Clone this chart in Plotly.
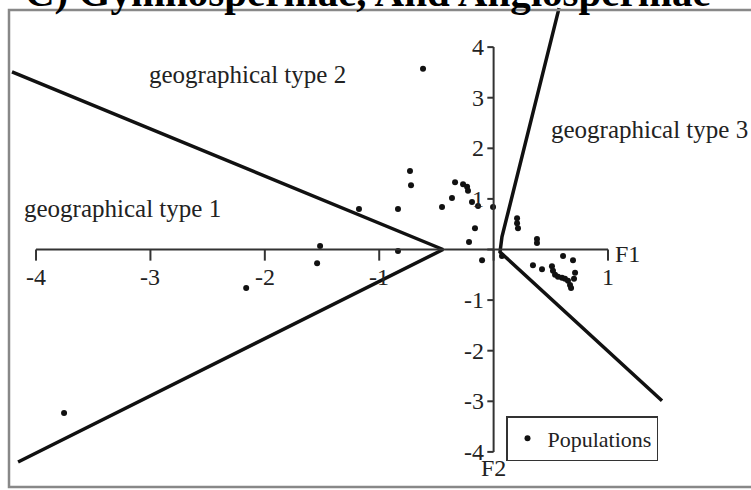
import plotly.graph_objects as go

# populations scores on the first two factors
f1 = [-3.755, -2.163, -1.517, -1.543, -1.177, -0.836, -0.836, -0.731, -0.722, -0.617,
      -0.451, -0.364, -0.337, -0.267, -0.232, -0.224, -0.189, -0.136, -0.005, -0.163,
      -0.215, -0.101, 0.073, 0.205, 0.205, 0.213, 0.379, 0.379, 0.344, 0.423,
      0.510, 0.519, 0.537, 0.563, 0.598, 0.624, 0.650, 0.668, 0.677, 0.607,
      0.694, 0.712, 0.703]
f2 = [-3.23, -0.76, 0.07, -0.27, 0.80, 0.80, -0.03, 1.55, 1.27, 3.57,
      0.84, 1.02, 1.33, 1.29, 1.24, 1.16, 0.94, 0.86, 0.84, 0.42,
      0.15, -0.21, -0.13, 0.62, 0.52, 0.42, 0.21, 0.13, -0.31, -0.39,
      -0.33, -0.42, -0.50, -0.54, -0.56, -0.58, -0.62, -0.70, -0.76, -0.13,
      -0.21, -0.46, -0.58]

# boundaries between the geographical types
left_x = [-4.21, -0.442, -4.157]
left_y = [3.51, 0.0, -4.20]
right_x = [0.572, 0.073, 0.056, 1.472]
right_y = [4.77, 0.25, -0.05, -2.99]

x_ticks = [-4, -3, -2, -1, 1]
y_ticks = [4, 3, 2, 1, -1, -2, -3, -4]

type_labels = ["geographical type 1", "geographical type 2", "geographical type 3"]
title = "C) Gymnospermae, And Angiospermae"

SERIF = "Liberation Serif, Times New Roman, serif"
INK = "#222"

fig = go.Figure()

fig.add_trace(go.Scatter(x=left_x, y=left_y, mode="lines",
                         line=dict(color="#111", width=3.5),
                         showlegend=False, hoverinfo="skip"))
fig.add_trace(go.Scatter(x=right_x, y=right_y, mode="lines",
                         line=dict(color="#111", width=3.5),
                         showlegend=False, hoverinfo="skip"))
fig.add_trace(go.Scatter(x=f1, y=f2, mode="markers", name="Populations",
                         marker=dict(color="#111", size=6)))

# axes crossing at the origin
shapes = [
    dict(type="line", x0=-4, x1=1, y0=0, y1=0, line=dict(color="#333", width=2)),
    dict(type="line", x0=0, x1=0, y0=-4, y1=4, line=dict(color="#333", width=2)),
]
for t in [-4, -3, -2, -1, 0, 1]:
    shapes.append(dict(type="line", x0=t, x1=t, y0=0, y1=-0.22,
                       line=dict(color="#333", width=2)))
for t in range(-4, 5):
    shapes.append(dict(type="line", x0=-0.055, x1=0, y0=t, y1=t,
                       line=dict(color="#333", width=2)))

# outer frame
shapes.append(dict(type="rect", xref="paper", yref="paper",
                   x0=9 / 751, x1=1.02, y0=1 - 487 / 490, y1=1 - 10 / 490,
                   line=dict(color="#888", width=2.5)))

annotations = []
for t in x_ticks:
    annotations.append(dict(x=t, y=0, text=str(t), showarrow=False,
                            yanchor="middle", yshift=-27,
                            font=dict(family=SERIF, size=24, color=INK)))
for t in y_ticks:
    annotations.append(dict(x=0, y=t, text=str(t), showarrow=False,
                            xanchor="right", xshift=-8,
                            font=dict(family=SERIF, size=24, color=INK)))
annotations.append(dict(x=1, y=0, text="F1", showarrow=False, xanchor="left",
                        xshift=5, yanchor="middle", yshift=-4,
                        font=dict(family=SERIF, size=24, color=INK)))
annotations.append(dict(x=0, y=-4, text="F2", showarrow=False, yanchor="top",
                        yshift=-1, font=dict(family=SERIF, size=24, color=INK)))

label_pos = [(22, 208, "left"), (247, 74, "center"), (549, 129, "left")]
for lab, (px, py, anc) in zip(type_labels, label_pos):
    annotations.append(dict(xref="paper", yref="paper", x=px / 751, y=1 - py / 490,
                            text=lab, showarrow=False, xanchor=anc, yanchor="middle",
                            font=dict(family=SERIF, size=25, color=INK)))

# title of the panel, mostly cut off at the top edge
annotations.append(dict(xref="paper", yref="paper", x=368 / 751, y=1 - 17 / 490,
                        text="<b>" + title + "</b>", showarrow=False,
                        xanchor="center", yanchor="bottom",
                        font=dict(family=SERIF, size=41, color="#000")))

fig.update_layout(
    width=751, height=490,
    margin=dict(l=0, r=0, t=0, b=0),
    paper_bgcolor="white", plot_bgcolor="white",
    xaxis=dict(range=[-4.315, 2.250], visible=False, fixedrange=True),
    yaxis=dict(range=[-4.753, 4.931], visible=False, fixedrange=True),
    shapes=shapes,
    annotations=annotations,
    showlegend=True,
    legend=dict(x=506 / 751, y=1 - 416 / 490, xanchor="left", yanchor="top",
                bordercolor="#333", borderwidth=1.5, bgcolor="white",
                itemwidth=30, font=dict(family=SERIF, size=22, color=INK),
                tracegroupgap=0),
)

# the page's default body margin would shift the chart, so drop it
fig.write_html("out.html", config={"displayModeBar": False},
               post_script="document.body.style.margin = '0';")
